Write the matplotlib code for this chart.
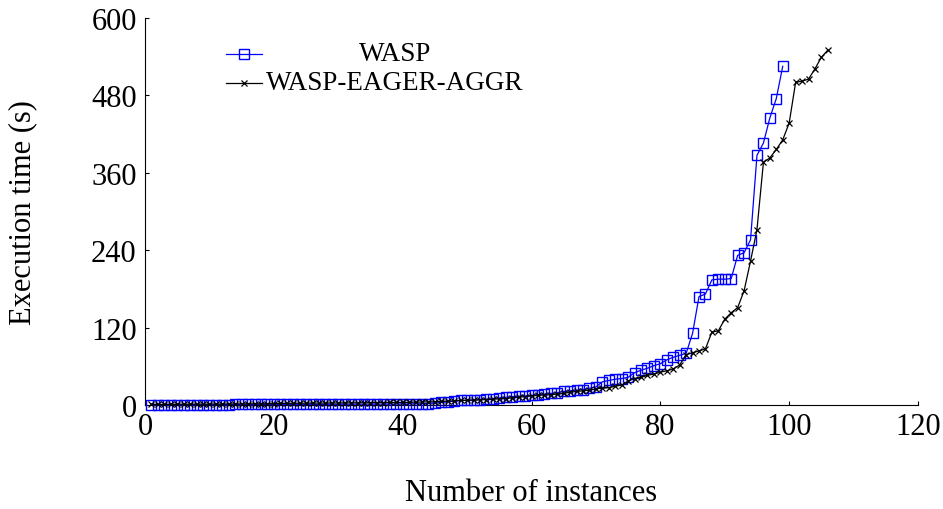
import matplotlib
matplotlib.use("Agg")
import matplotlib.pyplot as plt
from matplotlib.lines import Line2D

plt.rcParams['font.family'] = ['Liberation Serif', 'DejaVu Serif']

# solved instances sorted by time (cactus plot)
wasp_times = [
    0.4, 0.4, 0.5, 0.5, 0.5, 0.5, 0.6, 0.6, 0.6, 0.7,
    0.7, 0.7, 0.7, 0.8, 0.8, 0.8, 0.8, 0.8, 0.9, 0.9,
    0.9, 0.9, 1.0, 1.0, 1.0, 1.0, 1.0, 1.1, 1.1, 1.1,
    1.2, 1.2, 1.2, 1.3, 1.3, 1.4, 1.4, 1.5, 1.5, 1.6,
    1.7, 1.8, 2.0, 2.3, 3.0, 4.0, 5.0, 6.0, 7.0, 7.5,
    8.0, 8.5, 9.0, 10.0, 11.0, 12.0, 13.0, 13.5, 14.0, 15.0,
    16.0, 17.0, 18.0, 19.0, 21.0, 22.0, 23.0, 24.0, 26.0, 28.0,
    36.0, 38.0, 40.0, 41.0, 43.0, 50.0, 54.0, 57.0, 61.0, 64.0,
    70.0, 74.0, 77.0, 80.0, 111.0, 168.0, 172.0, 194.0, 195.0, 195.0,
    196.0, 232.0, 236.0, 256.0, 387.0, 406.0, 445.0, 475.0, 525.0,
]

eager_times = [
    1.0, 1.0, 1.1, 1.1, 1.2, 1.2, 1.3, 1.3, 1.4, 1.4,
    1.5, 1.5, 1.6, 1.7, 1.7, 1.8, 1.8, 1.9, 2.0, 2.0,
    2.5, 2.6, 2.7, 2.8, 2.9, 3.0, 3.0, 3.1, 3.2, 3.2,
    3.3, 3.4, 3.5, 3.5, 3.6, 3.7, 3.8, 3.9, 4.0, 4.0,
    4.2, 4.4, 4.6, 4.8, 5.0, 5.5, 6.0, 6.5, 7.0, 7.2,
    7.5, 8.0, 8.5, 9.0, 9.5, 10.0, 11.0, 12.0, 13.0, 14.0,
    15.0, 15.5, 16.0, 17.0, 18.0, 20.0, 21.0, 22.0, 23.0, 25.0,
    26.0, 27.0, 29.0, 31.0, 37.0, 41.0, 43.0, 46.0, 48.0, 51.0,
    53.0, 56.0, 62.0, 78.0, 81.0, 84.0, 87.0, 113.0, 115.0, 133.0,
    143.0, 151.0, 177.0, 223.0, 272.0, 376.0, 383.0, 396.0, 411.0, 437.0,
    500.0, 502.0, 505.0, 521.0, 539.0, 550.0,
]

wasp_x = list(range(1, len(wasp_times) + 1))
eager_x = list(range(1, len(eager_times) + 1))

fig = plt.figure(figsize=(9.43, 5.10), dpi=100)
ax = fig.add_axes([0.1538, 0.2039, 0.8197, 0.7591])

ax.plot(wasp_x, wasp_times, color='#0000ff', lw=0.9, marker='s', ms=6.5,
        mfc='none', mec='#0000ff', mew=1.0, clip_on=False, zorder=3)
ax.plot(eager_x, eager_times, color='black', lw=0.9, marker='x', ms=5,
        mew=0.9, clip_on=False, zorder=4)

ax.set_xlim(0, 120)
ax.set_ylim(0, 600)
ax.set_xticks(range(0, 121, 20))
ax.set_yticks(range(0, 601, 120))

ax.spines['top'].set_visible(False)
ax.spines['right'].set_visible(False)
ax.tick_params(direction='in', length=3, width=0.8, labelsize=22)
ax.tick_params(axis='x', pad=5)
ax.tick_params(axis='y', pad=6)

ax.set_xlabel('Number of instances', fontsize=22)
ax.set_ylabel('Execution time (s)', fontsize=22)
ax.xaxis.set_label_coords(0.5, -0.227)
ax.yaxis.set_label_coords(-0.158, 0.5)
ax.xaxis.label.set_va('center')
ax.yaxis.label.set_va('center')

# legend drawn by hand so that labels are centered like the original
h1 = Line2D([0.105, 0.151], [0.906, 0.906], transform=ax.transAxes,
            color='#0000ff', lw=0.9)
m1 = Line2D([0.128], [0.906], transform=ax.transAxes, marker='s', ms=6.5,
            mfc='none', mec='#0000ff', mew=1.0, linestyle='none')
h2 = Line2D([0.105, 0.151], [0.833, 0.833], transform=ax.transAxes,
            color='black', lw=0.9)
m2 = Line2D([0.128], [0.833], transform=ax.transAxes, marker='x', ms=4,
            color='black', mew=0.9, linestyle='none')
for art in (h1, m1, h2, m2):
    art.set_clip_on(False)
    ax.add_artist(art)

ax.text(0.323, 0.907, 'WASP', transform=ax.transAxes, ha='center',
        va='center', fontsize=19.5)
ax.text(0.323, 0.834, 'WASP-EAGER-AGGR', transform=ax.transAxes,
        ha='center', va='center', fontsize=19.5)

fig.savefig('out.png', dpi=100)
